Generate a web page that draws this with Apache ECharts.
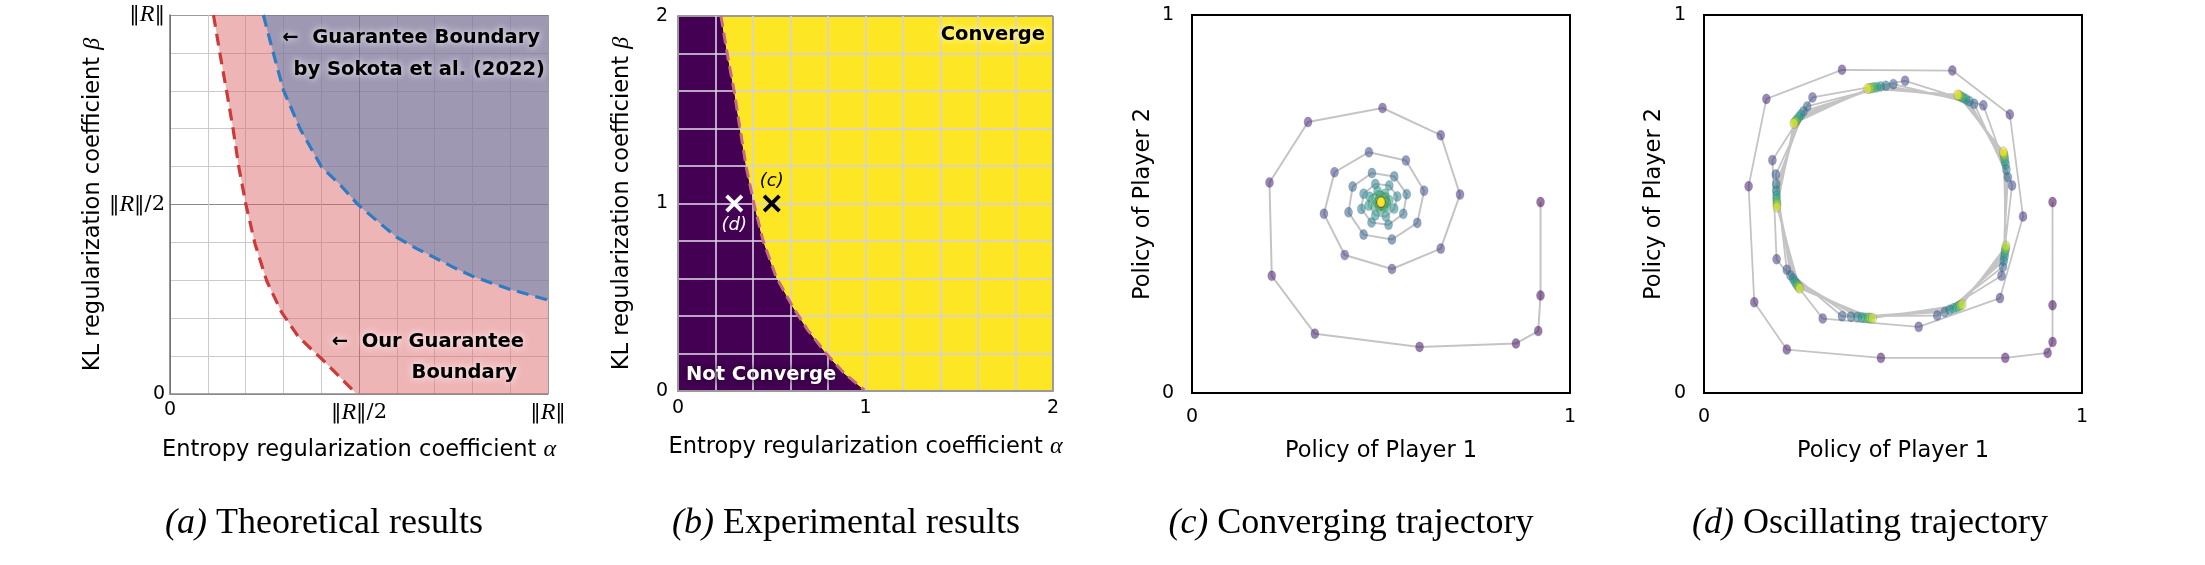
<!DOCTYPE html>
<html><head><meta charset="utf-8">
<script src="https://cdn.jsdelivr.net/npm/echarts@6/dist/echarts.min.js"></script>
<style>html,body{margin:0;padding:0;background:#fff}#c{width:2205px;height:565px}</style>
</head><body><div id="c"></div>
<script>
// ---------- (a) Theoretical results ----------
const redAlpha  = [0.115,0.132,0.150,0.167,0.182,0.201,0.225,0.256,0.295,0.339,0.372,0.401,0.445,0.494];
const redBeta   = [1.000,0.899,0.798,0.699,0.599,0.499,0.396,0.298,0.216,0.152,0.120,0.093,0.049,0.000];
const blueAlpha = [0.247,0.269,0.300,0.344,0.401,0.450,0.498,0.550,0.599,0.650,0.700,0.750,0.800,0.850,0.900,0.950,1.000];
const blueBeta  = [1.000,0.916,0.802,0.700,0.599,0.552,0.499,0.455,0.414,0.385,0.360,0.334,0.311,0.293,0.276,0.262,0.248];
const aTickVals = [0, 0.5, 1];
const aTickText = ['{z|0}', '{n|\u2016}{i|R}{n|\u2016/2}', '{n|\u2016}{i|R}{n|\u2016}'];

// ---------- (b) Experimental results ----------
const bndAlpha = [0.229,0.266,0.302,0.332,0.364,0.405,0.453,0.523,0.612,0.692,0.790,0.887,0.994];
const bndBeta  = [2.000,1.780,1.585,1.390,1.194,0.999,0.804,0.609,0.449,0.325,0.200,0.094,0.005];
const bTickVals = [0, 1, 2];
const markAlpha = [0.5, 0.3];
const markBeta  = [1.0, 1.0];
const markText  = ['(c)', '(d)'];

// ---------- (c) Converging trajectory ----------
const cX = [0.922,0.922,0.916,0.857,0.602,0.325,0.211,0.205,0.307,0.504,0.658,0.709,0.658,0.529,0.404,0.349,0.377,0.468,0.566,0.614,0.596,0.529,0.454,0.414,0.425,0.476,0.535,0.568,0.559,0.520,0.475,0.448,0.454,0.485,0.522,0.543,0.535,0.513,0.485,0.467,0.470,0.491,
  0.511,0.522,0.515,0.499,0.484,0.485,0.498,0.512,0.515,0.507,0.495,0.490,0.496,0.506,0.509,0.504,0.497,0.496,0.501,0.505,0.503,0.499,0.499,0.501,0.502,0.500,0.500,0.500,0.500,0.500,0.500,0.500];
const cY = [0.505,0.258,0.164,0.131,0.122,0.157,0.310,0.557,0.717,0.754,0.682,0.525,0.382,0.328,0.365,0.474,0.584,0.637,0.615,0.535,0.450,0.406,0.419,0.478,0.546,0.582,0.573,0.526,0.474,0.445,0.451,0.487,0.527,0.553,0.549,0.520,0.488,0.467,0.470,0.496,0.519,0.534,
  0.527,0.510,0.492,0.485,0.496,0.514,0.522,0.517,0.503,0.493,0.494,0.504,0.513,0.513,0.505,0.498,0.499,0.506,0.509,0.506,0.502,0.502,0.506,0.506,0.504,0.504,0.505,0.505,0.505,0.505,0.505,0.505];

// ---------- (d) Oscillating trajectory ----------
const dX = [0.922,0.922,0.922,0.909,0.797,0.468,0.219,0.133,0.118,0.165,0.365,0.657,0.809,0.844,0.783,0.568,0.314,0.192,0.181,0.287,0.532,0.739,0.815,
  0.787,0.617,0.365,0.219,0.190,0.273,0.501,0.715,0.804,
  0.791,0.637,0.389,0.229,0.191,0.263,0.481,0.702,0.800,
  0.793,0.650,0.406,0.236,0.191,0.256,0.467,0.693,0.798,
  0.795,0.660,0.418,0.241,0.192,0.250,0.457,0.686,0.796,
  0.796,0.668,0.427,0.245,0.192,0.246,0.449,0.681,0.795,
  0.797,0.674,0.435,0.248,0.193,0.243,0.443,0.677,0.794,
  0.798,0.678,0.440,0.251,0.193,0.240,0.438,0.674,0.793,
  0.799,0.683,0.446,0.253,0.193,0.238,0.433,0.671,0.792];
const dY = [0.505,0.232,0.135,0.106,0.093,0.093,0.115,0.240,0.547,0.778,0.855,0.853,0.737,0.467,0.251,0.175,0.197,0.354,0.616,0.782,0.826,0.761,0.549,
  0.310,0.205,0.203,0.326,0.578,0.758,0.817,0.765,0.571,
  0.334,0.214,0.202,0.311,0.552,0.745,0.813,0.772,0.591,
  0.350,0.220,0.201,0.302,0.535,0.736,0.811,0.777,0.605,
  0.361,0.224,0.200,0.294,0.522,0.729,0.809,0.781,0.615,
  0.371,0.227,0.199,0.288,0.512,0.723,0.808,0.783,0.623,
  0.378,0.230,0.199,0.284,0.504,0.719,0.807,0.786,0.629,
  0.383,0.232,0.198,0.280,0.498,0.716,0.806,0.787,0.633,
  0.389,0.234,0.198,0.277,0.492,0.713,0.805,0.789,0.638];
const cdTickVals = [0, 1];

const captionTag  = ['(a)', '(b)', '(c)', '(d)'];
const captionText = ['Theoretical results', 'Experimental results', 'Converging trajectory', 'Oscillating trajectory'];

// ---------- helpers ----------
const SANS = 'DejaVu Sans', SERIF = 'Liberation Serif';
const pairs = (xs, ys) => xs.map((x, i) => [x, ys[i]]);
const indexed = (xs, ys) => xs.map((x, i) => [x, ys[i], i]);
const viridis = ['#440154','#482878','#3e4989','#31688e','#26828e','#1f9e89','#35b779','#6ece58','#b5de2b','#fde725'];
function tickFmt(vals, texts) {
  return v => { const k = vals.findIndex(t => Math.abs(t - v) < 1e-6); return k < 0 ? '' : texts[k]; };
}
const numRich = { z: { fontFamily: SANS, fontSize: 19, color: '#000' } };
const rRich = { n: { fontFamily: 'DejaVu Serif', fontSize: 21, color: '#000' }, i: { fontFamily: SERIF, fontStyle: 'italic', fontSize: 24, color: '#000' }, z: { fontFamily: SANS, fontSize: 19, color: '#000' } };
const nameStyle = { fontFamily: SANS, fontSize: 22.5, color: '#000',
  rich: { g: { fontFamily: SERIF, fontStyle: 'italic', fontSize: 24, color: '#000' } } };
const aGridColors = ['#8a8a8a','#cbcbcb','#cbcbcb','#cbcbcb','#cbcbcb','#8a8a8a','#cbcbcb','#cbcbcb','#cbcbcb','#cbcbcb','#9a9a9a'];
const bLine = 'rgba(214,208,222,0.8)';
const bGridColors = ['#9a9a9a',bLine,bLine,bLine,bLine,bLine,bLine,bLine,bLine,bLine,'#9a9a9a'];
const crossPath = 'path://M3,0 L10,7 L17,0 L20,3 L13,10 L20,17 L17,20 L10,13 L3,20 L0,17 L7,10 L0,3 Z';
const dotPath = 'path://M50,0 A50,50 0 1 1 49.99,0 Z';

function glowText(x, y, text, align, fill, shadow) {
  return { type: 'text', x, y, z: 100, silent: true,
    style: { text, fontFamily: SANS, fontWeight: 'bold', fontSize: 19.5, fill, align, verticalAlign: 'middle',
      textShadowColor: shadow, textShadowBlur: 7 } };
}

const chart = echarts.init(document.getElementById('c'), null, { renderer: 'canvas' });
const option = {
  animation: false,
  textStyle: { fontFamily: SANS },
  grid: [
    { left: 170, top: 15, width: 378, height: 379 },
    { left: 678, top: 16, width: 375, height: 375 },
    { left: 1192, top: 15, width: 378, height: 378, show: true, borderColor: '#000', borderWidth: 2, backgroundColor: 'transparent' },
    { left: 1704, top: 15, width: 378, height: 378, show: true, borderColor: '#000', borderWidth: 2, backgroundColor: 'transparent' }
  ],
  xAxis: [
    { gridIndex: 0, type: 'value', min: 0, max: 1, interval: 0.1,
      axisLine: { show: true, lineStyle: { color: '#8a8a8a', width: 1.5 } }, axisTick: { show: false },
      splitLine: { show: true, lineStyle: { color: aGridColors, width: 1 } },
      axisLabel: { margin: 7, formatter: tickFmt(aTickVals, aTickText), rich: rRich },
      name: 'Entropy regularization coefficient {g|\u03b1}', nameLocation: 'middle', nameGap: 44, nameTextStyle: nameStyle },
    { gridIndex: 1, type: 'value', min: 0, max: 2, interval: 0.2, z: 5,
      axisLine: { show: true, lineStyle: { color: '#9a9a9a', width: 2 } }, axisTick: { show: false },
      splitLine: { show: true, lineStyle: { color: bGridColors, width: 2 } },
      axisLabel: { margin: 8, formatter: tickFmt(bTickVals, bTickVals.map(v => '{z|' + v + '}')), rich: numRich },
      name: 'Entropy regularization coefficient {g|\u03b1}', nameLocation: 'middle', nameGap: 44, nameTextStyle: nameStyle },
    { gridIndex: 2, type: 'value', min: 0, max: 1, interval: 1,
      axisLine: { show: false }, axisTick: { show: false }, splitLine: { show: false },
      axisLabel: { margin: 15, formatter: tickFmt(cdTickVals, cdTickVals.map(v => '{z|' + v + '}')), rich: numRich },
      name: 'Policy of Player 1', nameLocation: 'middle', nameGap: 47, nameTextStyle: nameStyle },
    { gridIndex: 3, type: 'value', min: 0, max: 1, interval: 1,
      axisLine: { show: false }, axisTick: { show: false }, splitLine: { show: false },
      axisLabel: { margin: 15, formatter: tickFmt(cdTickVals, cdTickVals.map(v => '{z|' + v + '}')), rich: numRich },
      name: 'Policy of Player 1', nameLocation: 'middle', nameGap: 47, nameTextStyle: nameStyle }
  ],
  yAxis: [
    { gridIndex: 0, type: 'value', min: 0, max: 1, interval: 0.1,
      axisLine: { show: true, lineStyle: { color: '#6e6e6e', width: 1.5 } }, axisTick: { show: false },
      splitLine: { show: true, lineStyle: { color: aGridColors, width: 1 } },
      axisLabel: { margin: 5, formatter: tickFmt(aTickVals, aTickText), rich: rRich },
      name: 'KL regularization coefficient {g|\u03b2}', nameLocation: 'middle', nameGap: 60, nameTextStyle: nameStyle },
    { gridIndex: 1, type: 'value', min: 0, max: 2, interval: 0.2, z: 5,
      axisLine: { show: true, lineStyle: { color: '#9a9a9a', width: 2 } }, axisTick: { show: false },
      splitLine: { show: true, lineStyle: { color: bGridColors, width: 2 } },
      axisLabel: { margin: 10, formatter: tickFmt(bTickVals, bTickVals.map(v => '{z|' + v + '}')), rich: numRich },
      name: 'KL regularization coefficient {g|\u03b2}', nameLocation: 'middle', nameGap: 44, nameTextStyle: nameStyle },
    { gridIndex: 2, type: 'value', min: 0, max: 1, interval: 1,
      axisLine: { show: false }, axisTick: { show: false }, splitLine: { show: false },
      axisLabel: { margin: 18, formatter: tickFmt(cdTickVals, cdTickVals.map(v => '{z|' + v + '}')), rich: numRich },
      name: 'Policy of Player 2', nameLocation: 'middle', nameGap: 37, nameTextStyle: nameStyle },
    { gridIndex: 3, type: 'value', min: 0, max: 1, interval: 1,
      axisLine: { show: false }, axisTick: { show: false }, splitLine: { show: false },
      axisLabel: { margin: 18, formatter: tickFmt(cdTickVals, cdTickVals.map(v => '{z|' + v + '}')), rich: numRich },
      name: 'Policy of Player 2', nameLocation: 'middle', nameGap: 38, nameTextStyle: nameStyle }
  ],
  visualMap: [
    { show: false, seriesIndex: 9, dimension: 2, min: 0, max: cX.length - 1, inRange: { color: viridis } },
    { show: false, seriesIndex: 11, dimension: 2, min: 0, max: dX.length - 1, inRange: { color: viridis } }
  ],
  series: [
    // 0 (a) pink region right of our boundary
    { type: 'line', xAxisIndex: 0, yAxisIndex: 0, data: pairs(redAlpha, redBeta).concat([[1, 0]]), symbol: 'none', silent: true, z: 1,
      lineStyle: { width: 0 }, areaStyle: { color: 'rgba(220,100,105,0.48)', origin: 'end', opacity: 1 } },
    // 1 (a) purple region above Sokota boundary
    { type: 'line', xAxisIndex: 0, yAxisIndex: 0, data: pairs(blueAlpha, blueBeta), symbol: 'none', silent: true, z: 1,
      lineStyle: { width: 0 }, areaStyle: { color: 'rgba(79,123,173,0.5)', origin: 'end', opacity: 1 } },
    // 2 (a) red dashed
    { type: 'line', xAxisIndex: 0, yAxisIndex: 0, data: pairs(redAlpha, redBeta), symbol: 'none', silent: true, z: 3,
      lineStyle: { color: '#cc3a3a', width: 3.2, type: [12, 7] } },
    // 3 (a) blue dashed
    { type: 'line', xAxisIndex: 0, yAxisIndex: 0, data: pairs(blueAlpha, blueBeta), symbol: 'none', silent: true, z: 3,
      lineStyle: { color: '#2f7bc3', width: 3.2, type: [12, 7] } },
    // 4 (b) not converge region
    { type: 'line', xAxisIndex: 1, yAxisIndex: 1, data: [[0, 2]].concat(pairs(bndAlpha, bndBeta), [[1, 0]]), symbol: 'none', silent: true, z: 1,
      lineStyle: { width: 0 }, areaStyle: { color: '#440154', origin: 'start', opacity: 1 } },
    // 5 (b) converge region
    { type: 'line', xAxisIndex: 1, yAxisIndex: 1, data: pairs(bndAlpha, bndBeta).concat([[1, 0], [2, 0]]), symbol: 'none', silent: true, z: 1,
      lineStyle: { width: 0 }, areaStyle: { color: '#fde725', origin: 'end', opacity: 1 } },
    // 6 (b) boundary dashed
    { type: 'line', xAxisIndex: 1, yAxisIndex: 1, data: pairs(bndAlpha, bndBeta), symbol: 'none', silent: true, z: 8,
      lineStyle: { color: '#c46c80', width: 3, type: [11, 6] } },
    // 7 (b) markers
    { type: 'scatter', xAxisIndex: 1, yAxisIndex: 1, symbol: crossPath, symbolSize: 18, silent: true, z: 9,
      data: markAlpha.map((a, i) => ({ value: [a, markBeta[i]],
        itemStyle: { color: i === 0 ? '#000' : '#fff', opacity: 1 },
        label: { show: true, formatter: markText[i], position: i === 0 ? 'top' : 'bottom', distance: 4,
          fontFamily: SANS, fontStyle: 'italic', fontSize: 18, color: i === 0 ? '#000' : '#fff' } })) },
    // 8 (c) path
    { type: 'line', xAxisIndex: 2, yAxisIndex: 2, data: pairs(cX, cY), symbol: 'none', silent: true, z: 2,
      lineStyle: { color: '#c4c4c4', width: 2 } },
    // 9 (c) points
    { type: 'scatter', xAxisIndex: 2, yAxisIndex: 2, data: indexed(cX, cY), symbol: dotPath, symbolSize: [8, 10], silent: true, z: 3,
      itemStyle: { opacity: 0.55, borderColor: 'rgba(60,50,110,0.35)', borderWidth: 1 } },
    // 10 (d) path
    { type: 'line', xAxisIndex: 3, yAxisIndex: 3, data: pairs(dX, dY), symbol: 'none', silent: true, z: 2,
      lineStyle: { color: '#c4c4c4', width: 1.8 } },
    // 11 (d) points
    { type: 'scatter', xAxisIndex: 3, yAxisIndex: 3, data: indexed(dX, dY), symbol: dotPath, symbolSize: [8, 10], silent: true, z: 3,
      itemStyle: { opacity: 0.55, borderColor: 'rgba(60,50,110,0.35)', borderWidth: 1 } }
  ],
  graphic: [
    glowText(540, 38, '\u2190  Guarantee Boundary', 'right', '#000', '#fff'),
    glowText(545, 70, 'by Sokota et al. (2022)', 'right', '#000', '#fff'),
    glowText(524, 342, '\u2190  Our Guarantee', 'right', '#000', '#fff'),
    glowText(517, 373, 'Boundary', 'right', '#000', '#fff'),
    glowText(1045, 35, 'Converge', 'right', '#000', '#fff'),
    glowText(686, 375, 'Not Converge', 'left', '#fff', '#1a0020'),
  ].concat([324, 846, 1351, 1870].map((cx, i) => ({
    type: 'text', x: cx, y: 524, z: 100, silent: true,
    style: { text: '{t|' + captionTag[i] + '} ' + captionText[i], fontFamily: SERIF, fontSize: 36, fill: '#000',
      align: 'center', verticalAlign: 'middle',
      rich: { t: { fontFamily: SERIF, fontStyle: 'italic', fontSize: 36, fill: '#000' } } }
  })))
};
chart.setOption(option);
</script></body></html>
